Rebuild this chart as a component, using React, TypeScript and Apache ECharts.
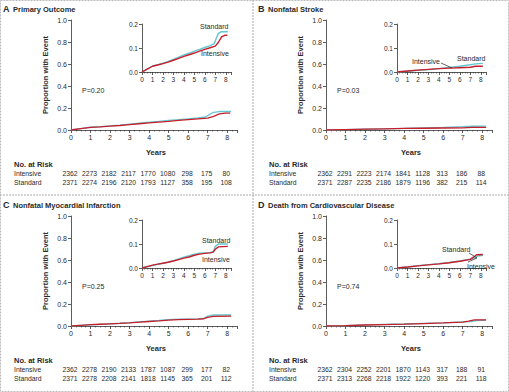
import React, { useEffect, useRef } from "react";
import * as echarts from "echarts";

const YEARS = [0, 1, 2, 3, 4, 5, 6, 7, 8];
const PANEL_LETTERS = ["A", "B", "C", "D"];
const PANEL_TITLES = [
  "Primary Outcome",
  "Nonfatal Stroke",
  "Nonfatal Myocardial Infarction",
  "Death from Cardiovascular Disease",
];
const P_VALUES = ["P=0.20", "P=0.03", "P=0.25", "P=0.74"];

const primaryIntensive = [[0,0],[0.5,0.012],[1,0.024],[1.5,0.029],[2,0.035],[2.5,0.041],[3,0.049],[3.5,0.057],[4,0.065],[4.5,0.072],[5,0.079],[5.5,0.087],[6,0.094],[6.5,0.101],[7,0.108],[7.3,0.124],[7.6,0.146],[7.9,0.153],[8.15,0.153]];
const primaryStandard = [[0,0],[0.5,0.012],[1,0.025],[1.5,0.031],[2,0.037],[2.5,0.044],[3,0.053],[3.5,0.062],[4,0.071],[4.5,0.078],[5,0.087],[5.5,0.094],[6,0.102],[6.5,0.11],[6.9,0.118],[7.1,0.142],[7.3,0.161],[7.6,0.168],[8.2,0.168]];
const strokeIntensive = [[0,0],[1,0.004],[2,0.008],[3,0.011],[4,0.014],[5,0.016],[6,0.018],[7,0.02],[7.5,0.024],[8.2,0.024]];
const strokeStandard = [[0,0],[1,0.003],[2,0.007],[3,0.01],[4,0.014],[5,0.019],[6,0.024],[7,0.03],[7.5,0.034],[8.2,0.036]];
const miIntensive = [[0,0],[0.5,0.006],[1,0.012],[1.5,0.016],[2,0.02],[2.5,0.024],[3,0.029],[3.5,0.035],[4,0.041],[4.5,0.046],[5,0.053],[5.5,0.058],[6,0.061],[6.5,0.063],[6.8,0.066],[7,0.078],[7.3,0.088],[8.2,0.09]];
const miStandard = [[0,0],[0.5,0.005],[1,0.01],[1.5,0.015],[2,0.02],[2.5,0.025],[3,0.031],[3.5,0.038],[4,0.045],[4.5,0.051],[5,0.058],[5.5,0.062],[6,0.063],[6.5,0.064],[6.8,0.068],[7,0.09],[7.3,0.1],[8.2,0.1]];
const cvdIntensive = [[0,0],[1,0.004],[2,0.009],[3,0.013],[4,0.017],[5,0.022],[6,0.028],[7,0.036],[7.3,0.045],[7.6,0.055],[8.2,0.056]];
const cvdStandard = [[0,0],[1,0.004],[2,0.01],[3,0.014],[4,0.018],[5,0.023],[6,0.029],[7,0.037],[7.4,0.04],[7.7,0.05],[8.2,0.053]];

const INTENSIVE = [primaryIntensive, strokeIntensive, miIntensive, cvdIntensive];
const STANDARD = [primaryStandard, strokeStandard, miStandard, cvdStandard];

const riskIntensiveA = [2362, 2273, 2182, 2117, 1770, 1080, 298, 175, 80];
const riskStandardA = [2371, 2274, 2196, 2120, 1793, 1127, 358, 195, 108];
const riskIntensiveB = [2362, 2291, 2223, 2174, 1841, 1128, 313, 186, 88];
const riskStandardB = [2371, 2287, 2235, 2186, 1879, 1196, 382, 215, 114];
const riskIntensiveC = [2362, 2278, 2190, 2133, 1787, 1087, 299, 177, 82];
const riskStandardC = [2371, 2278, 2208, 2141, 1818, 1145, 365, 201, 112];
const riskIntensiveD = [2362, 2304, 2252, 2201, 1870, 1143, 317, 188, 91];
const riskStandardD = [2371, 2313, 2268, 2218, 1922, 1220, 393, 221, 118];
const RISK_INT = [riskIntensiveA, riskIntensiveB, riskIntensiveC, riskIntensiveD];
const RISK_STD = [riskStandardA, riskStandardB, riskStandardC, riskStandardD];

const FONT = "Liberation Sans";
const TXT = "#2a2a2a";
const AX = "#333";
const RED = "#c61f2b";
const CYAN = "#62c6d0";

const DX = [0, 255, 0, 255];
const DY = [0, 0, 196, 196];

// inset label positions (x, y) relative to panel origin
const INSET_LABELS = [
  [{ t: "Standard", x: 200, y: 26 }, { t: "Intensive", x: 201, y: 53 }],
  [{ t: "Intensive", x: 157, y: 61 }, { t: "Standard", x: 202, y: 58 }],
  [{ t: "Standard", x: 202, y: 44 }, { t: "Intensive", x: 202, y: 63 }],
  [{ t: "Standard", x: 187, y: 53 }, { t: "Intensive", x: 212, y: 70 }],
];
const INSET_ARROWS = [
  [],
  [[186, 63, 197, 68]],
  [],
  [[214, 57, 222, 62], [213, 66, 222, 62]],
];

export default function App() {
  const ref = useRef<HTMLDivElement>(null);
  useEffect(() => {
    if (!ref.current) return;
    const chart = echarts.init(ref.current, undefined, { renderer: "svg" });
    const grids: any[] = [];
    const xAxes: any[] = [];
    const yAxes: any[] = [];
    const series: any[] = [];

    for (let p = 0; p < 4; p++) {
      const dx = DX[p], dy = DY[p];
      grids.push({ left: 71 + dx, top: 20 + dy, width: 166, height: 110 });
      grids.push({ left: 142 + dx, top: 24 + dy, width: 89, height: 48 });
      for (let k = 0; k < 2; k++) {
        const gi = p * 2 + k;
        const inset = k === 1;
        xAxes.push({
          type: "value", gridIndex: gi, min: 0, max: 8.5, interval: 1,
          axisLine: { show: true, lineStyle: { color: AX, width: 0.8 } },
          axisTick: { show: true, length: 3, lineStyle: { color: AX, width: 0.8 } },
          minorTick: { show: true, splitNumber: 4, length: 1.5, lineStyle: { color: AX, width: 0.6 } },
          splitLine: { show: false },
          axisLabel: {
            fontFamily: FONT, fontSize: inset ? 6.5 : 7, color: TXT, margin: 4,
            formatter: (v: number) => (Number.isInteger(v) && v <= 8 ? String(v) : ""),
          },
        });
        yAxes.push({
          type: "value", gridIndex: gi, min: 0, max: inset ? 0.2 : 1.0, interval: inset ? 0.1 : 0.2,
          axisLine: { show: true, lineStyle: { color: AX, width: 0.8 } },
          axisTick: { show: true, length: 3, lineStyle: { color: AX, width: 0.8 } },
          splitLine: { show: false },
          axisLabel: {
            fontFamily: FONT, fontSize: inset ? 6.5 : 7, color: TXT, margin: 4,
            formatter: (v: number) => v.toFixed(1),
          },
          name: inset ? "" : "Proportion with Event",
          nameLocation: "middle", nameRotate: 90, nameGap: 22,
          nameTextStyle: { fontFamily: FONT, fontSize: 7.5, fontWeight: "bold", color: TXT },
        });
        series.push({
          type: "line", xAxisIndex: gi, yAxisIndex: gi, data: STANDARD[p],
          showSymbol: false, lineStyle: { color: CYAN, width: inset ? 1.4 : 1.3 }, z: 2,
        });
        series.push({
          type: "line", xAxisIndex: gi, yAxisIndex: gi, data: INTENSIVE[p],
          showSymbol: false, lineStyle: { color: RED, width: inset ? 1.4 : 1.3 }, z: 3,
        });
      }
    }

    chart.setOption({
      animation: false,
      backgroundColor: "#fff",
      grid: grids,
      xAxis: xAxes,
      yAxis: yAxes,
      series,
    });

    const graphics: any[] = [];
    const text = (t: string, x: number, y: number, opts: any = {}) => {
      graphics.push({
        type: "text", x, y, silent: true, z: 100,
        style: {
          text: t, fontFamily: FONT, fontSize: opts.size || 7, fontWeight: opts.bold ? "bold" : "normal",
          fill: TXT, textAlign: opts.align || "left", textVerticalAlign: "middle",
        },
      });
    };
    for (let p = 0; p < 4; p++) {
      const dx = DX[p], dy = DY[p];
      text(PANEL_LETTERS[p], 3 + dx, 9 + dy, { bold: true, size: 9 });
      text(PANEL_TITLES[p], 13 + dx, 9 + dy, { bold: true, size: 7.5 });
      text(P_VALUES[p], 82 + dx, 90 + dy, { size: 7 });
      text("Years", 156 + dx, 152 + dy, { bold: true, size: 7.5, align: "center" });
      text("No. at Risk", 14 + dx, 164 + dy, { bold: true, size: 7.5 });
      text("Intensive", 14 + dx, 173 + dy, { size: 6.8 });
      text("Standard", 14 + dx, 182 + dy, { size: 6.8 });
      YEARS.forEach((yr, i) => {
        const px = chart.convertToPixel({ xAxisIndex: p * 2 }, yr) as number;
        text(String(RISK_INT[p][i]), px - 1, 173 + dy, { size: 6.8, align: "center" });
        text(String(RISK_STD[p][i]), px - 1, 182 + dy, { size: 6.8, align: "center" });
      });
      INSET_LABELS[p].forEach((l) => text(l.t, l.x + dx, l.y + dy, { size: 7 }));
      INSET_ARROWS[p].forEach((a) => {
        graphics.push({
          type: "line", silent: true, z: 100,
          shape: { x1: a[0] + dx, y1: a[1] + dy, x2: a[2] + dx, y2: a[3] + dy },
          style: { stroke: "#222", lineWidth: 0.7 },
        });
      });
    }
    graphics.push({ type: "line", silent: true, z: 100, shape: { x1: 253, y1: 0, x2: 253, y2: 392 }, style: { stroke: "#aaa", lineWidth: 1, lineDash: [2, 1] } });
    graphics.push({ type: "line", silent: true, z: 100, shape: { x1: 0, y1: 195, x2: 509, y2: 195 }, style: { stroke: "#aaa", lineWidth: 1, lineDash: [2, 1] } });
    graphics.push({ type: "rect", silent: true, z: 100, shape: { x: 0.5, y: 0.5, width: 508, height: 391 }, style: { fill: "none", stroke: "#bbb", lineWidth: 1, lineDash: [2, 1] } });

    chart.setOption({ graphic: graphics });
    return () => chart.dispose();
  }, []);
  return (
    <div
      ref={ref}
      style={{ position: "fixed", left: 0, top: 0, width: 509, height: 392 }}
    />
  );
}
